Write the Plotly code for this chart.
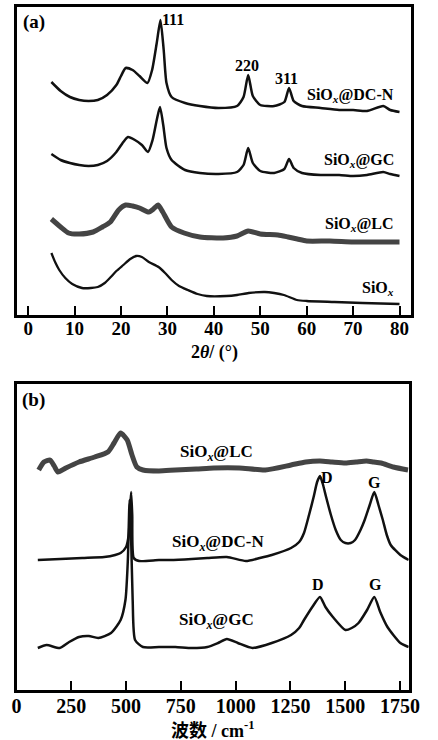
import plotly.graph_objects as go

W, H = 438, 740

# ---------------- Panel (a): XRD ----------------
theta_dcn = [5, 7, 9, 11, 13, 15, 17, 19, 20, 21, 22.5, 24, 25.7, 26.7, 27.7, 28.5, 29.2, 29.8, 30.9, 33.8, 37, 41, 45, 46.4, 47.4, 48.4, 50, 53, 55.2, 56.2, 57.2, 59, 63, 67, 70, 73, 76.5, 78, 80]
int_dcn = [233, 224, 218, 215, 214, 215, 220, 230, 239, 247, 245, 239, 232, 245, 272, 295, 265, 232, 218, 212, 209, 207, 209, 218, 240, 219, 210, 209, 213, 227, 214, 209, 207, 205, 205, 204, 209, 205, 203]

theta_gc = [5, 7, 9, 11, 13, 15, 17, 19, 20.5, 21.5, 23, 24.5, 25.8, 26.8, 27.7, 28.4, 29.1, 29.8, 30.9, 33.8, 37, 41, 45, 46.4, 47.4, 48.4, 50, 53, 55.2, 56.2, 57.2, 59, 63, 67, 70, 73, 76.5, 78, 80]
int_gc = [161, 155, 152, 150, 149, 150, 154, 163, 173, 178, 175, 170, 163, 175, 195, 208, 190, 167, 155, 145, 142, 141, 143, 150, 167, 152, 144, 142, 146, 156, 147, 142, 140, 140, 139, 140, 143, 141, 139]

theta_lc = [5, 7, 8.7, 11, 14, 16, 17.7, 19.5, 21, 22.5, 24, 26, 27, 28, 29, 30.9, 33.6, 37, 42, 45, 47.4, 50, 53.8, 56, 58, 60, 65, 70, 75, 80]
int_lc = [96, 88, 82, 81, 83, 88, 93, 105, 110, 109, 107, 103, 106, 110, 103, 88, 82, 78, 77, 79, 84, 81, 80, 78, 76, 74, 74, 73, 73, 73]

theta_si = [5, 5.8, 6.7, 8, 9.5, 11.6, 13.5, 15, 16.5, 17.8, 19, 20.5, 22, 23.3, 24.5, 26, 28.1, 29.5, 30.9, 32.5, 34.4, 36.5, 38.5, 42.7, 45, 47.5, 51, 53, 55.1, 57.9, 60, 66, 72, 80]
int_si = [62, 53, 45, 37, 31, 27, 27, 28, 32, 38, 44, 50, 56, 59, 58, 53, 48, 42, 35, 29, 25, 21, 19, 19, 20, 22, 23, 22, 20, 15, 14, 13, 12, 11]

xrd_ticks = [0, 10, 20, 30, 40, 50, 60, 70, 80]

# ---------------- Panel (b): Raman ----------------
k_lc = [101, 125, 153, 172, 189, 225, 285, 357, 417, 445, 475, 505, 527, 549, 577, 650, 725, 820, 901, 1017, 1136, 1253, 1320, 1385, 1440, 1501, 1550, 1597, 1630, 1664, 1720, 1787]
r_lc = [220, 228, 230, 224, 218, 222, 228, 233, 238, 247, 257, 250, 235, 223, 220, 219, 220, 221, 222, 222, 220, 225, 228, 229, 228, 227, 228, 229, 228, 227, 223, 220]

k_dcn = [97, 200, 300, 400, 450, 475, 500, 512, 518, 523, 528, 535, 560, 650, 700, 800, 871, 960, 1047, 1110, 1165, 1253, 1290, 1312, 1335, 1356, 1372, 1385, 1398, 1413, 1435, 1457, 1480, 1501, 1525, 1545, 1570, 1589, 1612, 1633, 1652, 1672, 1690, 1708, 1752, 1790]
r_dcn = [130, 131, 132, 133, 135, 137, 143, 155, 180, 198, 175, 132, 129, 130, 130, 131, 132, 133, 129, 132, 135, 142, 148, 157, 175, 193, 208, 214, 206, 193, 175, 160, 150, 147, 147, 150, 160, 170, 185, 198, 185, 170, 155, 145, 135, 130]

k_gc = [97, 137, 197, 240, 285, 330, 373, 431, 475, 497, 508, 516, 522, 530, 541, 577, 650, 725, 800, 871, 920, 960, 1010, 1077, 1165, 1253, 1290, 1312, 1350, 1385, 1410, 1444, 1501, 1530, 1561, 1600, 1633, 1660, 1693, 1752, 1790]
r_gc = [42, 45, 42, 48, 53, 54, 52, 57, 70, 90, 130, 190, 160, 90, 50, 43, 43, 43, 42, 43, 47, 51, 47, 42, 47, 55, 62, 70, 83, 93, 83, 73, 60, 62, 67, 80, 93, 78, 63, 47, 43]

raman_ticks = [0, 250, 500, 750, 1000, 1250, 1500, 1750]

SERIF = "Liberation Serif"
BLACK = "#111111"

fig = go.Figure()

def add(x, y, xa, ya, width=2.5, color=BLACK):
    fig.add_trace(go.Scatter(x=x, y=y, mode="lines", xaxis=xa, yaxis=ya,
                             line=dict(color=color, width=width, shape="spline", smoothing=0.6),
                             showlegend=False, hoverinfo="skip"))

add(theta_dcn, int_dcn, "x", "y")
add(theta_gc, int_gc, "x", "y")
add(theta_lc, int_lc, "x", "y", width=5, color="rgba(35,35,35,0.85)")
add(theta_si, int_si, "x", "y", width=2.3)

add(k_lc, r_lc, "x2", "y2", width=5, color="rgba(35,35,35,0.85)")
add(k_dcn, r_dcn, "x2", "y2")
add(k_gc, r_gc, "x2", "y2")

def px(x, y):
    return x / W, 1 - y / H

axis_common = dict(showline=True, linecolor="black", linewidth=2.5, mirror=True,
                   showgrid=False, zeroline=False)

fig.update_layout(
    width=W, height=H, margin=dict(l=0, r=0, t=0, b=0),
    paper_bgcolor="white", plot_bgcolor="white",
    xaxis=dict(domain=[12 / W, 421.5 / W], range=[-2.5, 82.5], anchor="y",
               tickmode="array", tickvals=xrd_ticks, ticks="inside", ticklen=9, tickwidth=2,
               tickcolor="black", ticklabelstandoff=-6,
               tickfont=dict(family=SERIF, size=19, color="black", weight="bold"),
               **axis_common),
    yaxis=dict(domain=[1 - 315 / H, 1 - 7 / H], range=[0, 308], anchor="x",
               showticklabels=False, ticks="", **axis_common),
    xaxis2=dict(domain=[12 / W, 419 / W], range=[0, 1790], anchor="y2",
                tickmode="array", tickvals=raman_ticks, ticks="inside", ticklen=9, tickwidth=2,
                tickcolor="black", ticklabelstandoff=-4,
                tickfont=dict(family=SERIF, size=20, color="black", weight="bold"),
                **axis_common),
    yaxis2=dict(domain=[1 - 690 / H, 1 - 384 / H], range=[0, 306], anchor="x2",
                showticklabels=False, ticks="", **axis_common),
)

def label(text, x, y, size=16, xanchor="center", family=SERIF):
    ax, ay = px(x, y)
    fig.add_annotation(text=text, x=ax, y=ay, xref="paper", yref="paper",
                       xanchor=xanchor, yanchor="middle", showarrow=False,
                       font=dict(family=family, size=size, color="black"))

sio = "SiO<sub><i>x</i></sub>"
# panel (a)
label("<b>(a)</b>", 30, 22, size=19)
label("<b>111</b>", 174, 20, size=16)
label("<b>220</b>", 251, 66, size=16)
label("<b>311</b>", 292, 78, size=16)
label(f"<b>{sio}@DC-N</b>", 406, 95, size=16, xanchor="right")
label(f"<b>{sio}@GC</b>", 406, 160, size=16, xanchor="right")
label(f"<b>{sio}@LC</b>", 406, 224, size=16, xanchor="right")
label(f"<b>{sio}</b>", 406, 288, size=16, xanchor="right")
label("<b>2<i>θ</i>/ (°)</b>", 217, 352, size=18)

# panel (b)
label("<b>(b)</b>", 30, 400, size=19)
label(f"<b>{sio}@LC</b>", 219, 453, size=17)
label(f"<b>{sio}@DC-N</b>", 221, 543, size=17)
label(f"<b>{sio}@GC</b>", 220, 621, size=17)
label("<b>D</b>", 334, 478, size=16)
label("<b>G</b>", 384, 482, size=16)
label("<b>D</b>", 325, 584, size=16)
label("<b>G</b>", 385, 584, size=16)
label("<b>波数 / cm<sup>-1</sup></b>", 215, 729, size=18,
      family="Liberation Serif, Noto Sans CJK SC")

fig.write_html("out.html", config={"displayModeBar": False},
               post_script="document.body.style.margin='0';document.body.style.overflow='hidden';")
